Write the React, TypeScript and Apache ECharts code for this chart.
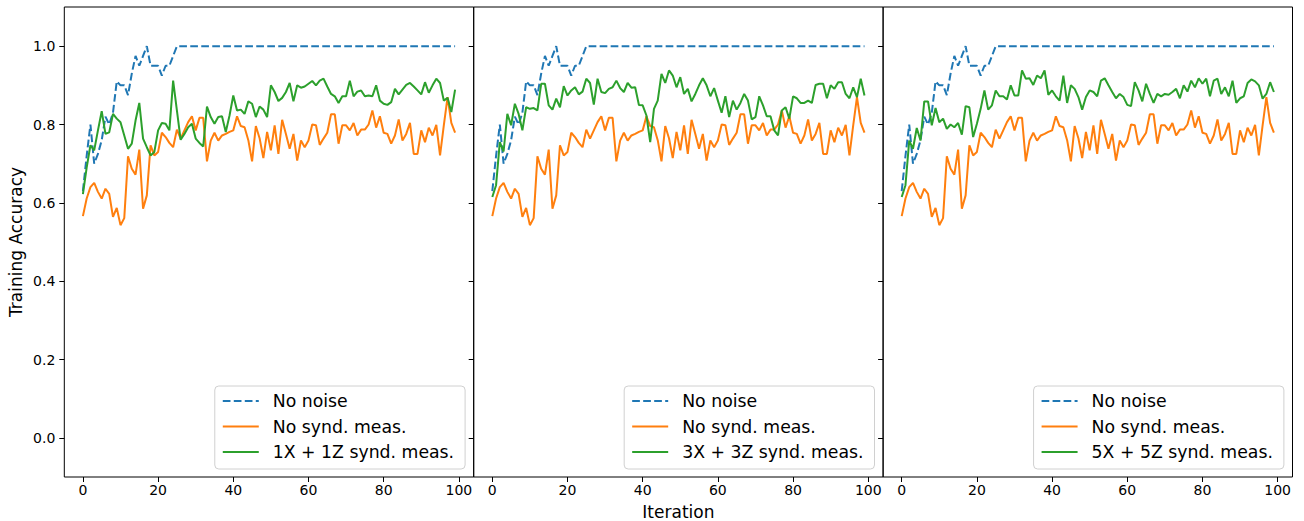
import React, { useEffect, useRef } from "react";
import * as echarts from "echarts";

const iterations: number[] = Array.from({ length: 100 }, (_, i) => i);

const noNoise: number[] = [
  0.63, 0.72, 0.80, 0.70, 0.725, 0.76, 0.82, 0.80, 0.83, 0.91,
  0.90, 0.90, 0.875, 0.93, 0.975, 0.95, 0.975, 1.0, 0.95, 0.95,
  0.95, 0.925, 0.95, 0.95, 0.975, 1.0, 1.0, 1.0, 1.0, 1.0,
  1.0, 1.0, 1.0, 1.0, 1.0, 1.0, 1.0, 1.0, 1.0, 1.0,
  1.0, 1.0, 1.0, 1.0, 1.0, 1.0, 1.0, 1.0, 1.0, 1.0,
  1.0, 1.0, 1.0, 1.0, 1.0, 1.0, 1.0, 1.0, 1.0, 1.0,
  1.0, 1.0, 1.0, 1.0, 1.0, 1.0, 1.0, 1.0, 1.0, 1.0,
  1.0, 1.0, 1.0, 1.0, 1.0, 1.0, 1.0, 1.0, 1.0, 1.0,
  1.0, 1.0, 1.0, 1.0, 1.0, 1.0, 1.0, 1.0, 1.0, 1.0,
  1.0, 1.0, 1.0, 1.0, 1.0, 1.0, 1.0, 1.0, 1.0, 1.0,
];

const noSynd: number[] = [
  0.566, 0.611, 0.640, 0.651, 0.628, 0.611, 0.636, 0.623, 0.564, 0.587,
  0.543, 0.561, 0.719, 0.687, 0.672, 0.736, 0.585, 0.619, 0.747, 0.721,
  0.730, 0.779, 0.768, 0.753, 0.742, 0.787, 0.764, 0.785, 0.806, 0.821,
  0.785, 0.817, 0.817, 0.706, 0.759, 0.779, 0.759, 0.772, 0.776, 0.781,
  0.785, 0.821, 0.796, 0.793, 0.760, 0.706, 0.796, 0.765, 0.714, 0.781,
  0.734, 0.798, 0.725, 0.812, 0.776, 0.738, 0.776, 0.708, 0.759, 0.742,
  0.759, 0.800, 0.798, 0.748, 0.764, 0.779, 0.826, 0.826, 0.751, 0.798,
  0.798, 0.785, 0.804, 0.772, 0.787, 0.787, 0.800, 0.836, 0.792, 0.821,
  0.779, 0.776, 0.751, 0.772, 0.813, 0.759, 0.776, 0.804, 0.725, 0.725,
  0.785, 0.755, 0.792, 0.772, 0.799, 0.721, 0.798, 0.870, 0.804, 0.779,
];

const synd1: number[] = [
  0.622, 0.690, 0.747, 0.734, 0.785, 0.834, 0.776, 0.780, 0.827, 0.815,
  0.806, 0.772, 0.738, 0.751, 0.810, 0.855, 0.764, 0.742, 0.721, 0.730,
  0.785, 0.804, 0.802, 0.785, 0.912, 0.836, 0.761, 0.776, 0.793, 0.802,
  0.764, 0.753, 0.744, 0.846, 0.819, 0.802, 0.819, 0.821, 0.781, 0.823,
  0.874, 0.836, 0.838, 0.827, 0.859, 0.853, 0.819, 0.846, 0.838, 0.819,
  0.900, 0.883, 0.860, 0.868, 0.883, 0.906, 0.859, 0.900, 0.894, 0.897,
  0.904, 0.911, 0.900, 0.912, 0.917, 0.897, 0.878, 0.872, 0.855, 0.872,
  0.872, 0.912, 0.872, 0.884, 0.887, 0.872, 0.874, 0.872, 0.900, 0.861,
  0.853, 0.850, 0.857, 0.891, 0.877, 0.889, 0.901, 0.906, 0.897, 0.887,
  0.877, 0.908, 0.881, 0.900, 0.917, 0.906, 0.861, 0.868, 0.832, 0.889,
];

const synd3: number[] = [
  0.615, 0.645, 0.755, 0.731, 0.827, 0.798, 0.853, 0.827, 0.785, 0.844,
  0.840, 0.842, 0.836, 0.904, 0.904, 0.849, 0.838, 0.866, 0.844, 0.898,
  0.874, 0.887, 0.895, 0.877, 0.884, 0.917, 0.906, 0.851, 0.917, 0.883,
  0.880, 0.891, 0.895, 0.912, 0.893, 0.883, 0.906, 0.894, 0.895, 0.850,
  0.849, 0.823, 0.755, 0.840, 0.861, 0.929, 0.906, 0.938, 0.925, 0.895,
  0.921, 0.878, 0.891, 0.859, 0.878, 0.900, 0.918, 0.900, 0.872, 0.893,
  0.861, 0.830, 0.872, 0.819, 0.861, 0.838, 0.855, 0.878, 0.861, 0.813,
  0.819, 0.872, 0.849, 0.821, 0.821, 0.785, 0.772, 0.836, 0.844, 0.815,
  0.872, 0.867, 0.855, 0.855, 0.861, 0.855, 0.901, 0.904, 0.904, 0.867,
  0.900, 0.891, 0.908, 0.908, 0.878, 0.867, 0.895, 0.870, 0.917, 0.874,
];

const synd5: number[] = [
  0.615, 0.645, 0.759, 0.738, 0.791, 0.759, 0.859, 0.859, 0.798, 0.842,
  0.806, 0.815, 0.789, 0.800, 0.793, 0.804, 0.774, 0.847, 0.844, 0.768,
  0.802, 0.840, 0.887, 0.838, 0.849, 0.887, 0.872, 0.872, 0.864, 0.900,
  0.874, 0.874, 0.938, 0.917, 0.918, 0.901, 0.925, 0.918, 0.938, 0.876,
  0.887, 0.872, 0.861, 0.925, 0.855, 0.900, 0.891, 0.870, 0.838, 0.870,
  0.887, 0.883, 0.872, 0.912, 0.918, 0.900, 0.883, 0.867, 0.878, 0.870,
  0.850, 0.847, 0.908, 0.887, 0.859, 0.904, 0.878, 0.855, 0.878, 0.872,
  0.878, 0.876, 0.883, 0.891, 0.867, 0.900, 0.884, 0.912, 0.895, 0.918,
  0.904, 0.917, 0.872, 0.912, 0.917, 0.878, 0.895, 0.872, 0.912, 0.855,
  0.867, 0.872, 0.906, 0.915, 0.910, 0.900, 0.866, 0.878, 0.908, 0.883,
];

const panelLabels: string[] = [
  "1X + 1Z synd. meas.",
  "3X + 3Z synd. meas.",
  "5X + 5Z synd. meas.",
];
const panelGreens: number[][] = [synd1, synd3, synd5];

const xTicks: number[] = [0, 20, 40, 60, 80, 100];
const yTicks: number[] = [0, 0.2, 0.4, 0.6, 0.8, 1.0];

const FONT = "DejaVu Sans";
const BLUE = "#1f77b4";
const ORANGE = "#ff7f0e";
const GREEN = "#2ca02c";

const pairs = (vals: number[]) => iterations.map((it, i) => [it, vals[i]]);

export default function App() {
  const ref = useRef<HTMLDivElement>(null);

  useEffect(() => {
    if (!ref.current) return;
    const chart = echarts.init(ref.current, undefined, { renderer: "svg" });

    const W = 409.4;
    const lefts = [64.3, 64.3 + W, 64.3 + 2 * W];
    const legendRights = lefts.map((l) => 1304 - (l + W - 8.6));

    const grids = lefts.map((l) => ({
      left: l,
      top: 7,
      width: W,
      height: 470,
      show: true,
      borderColor: "#000",
      borderWidth: 1,
      backgroundColor: "transparent",
      containLabel: false,
      outerBoundsMode: "none",
    }));

    const xAxes = lefts.map((_, k) => ({
      type: "value",
      gridIndex: k,
      position: "bottom",
      min: -4.95,
      max: 103.95,
      splitLine: { show: false },
      axisLine: { show: false, onZero: false },
      axisTick: {
        show: true,
        customValues: xTicks,
        length: 5,
        lineStyle: { color: "#000", width: 1 },
      },
      axisLabel: {
        show: true,
        customValues: xTicks,
        margin: 6,
        fontSize: 14,
        fontFamily: FONT,
        color: "#000",
      },
      name: k === 1 ? "Iteration" : "",
      nameLocation: "middle",
      nameGap: 26,
      nameTextStyle: { fontSize: 17, fontFamily: FONT, color: "#000" },
    }));

    const yAxes = lefts.map((_, k) => ({
      type: "value",
      gridIndex: k,
      position: "left",
      min: -0.1,
      max: 1.1,
      splitLine: { show: false },
      axisLine: { show: false, onZero: false },
      axisTick: {
        show: true,
        customValues: yTicks,
        length: 5,
        lineStyle: { color: "#000", width: 1 },
      },
      axisLabel: {
        show: k === 0,
        customValues: yTicks,
        margin: 9,
        fontSize: 14,
        fontFamily: FONT,
        color: "#000",
        formatter: (v: number) => v.toFixed(1),
      },
      name: k === 0 ? "Training Accuracy" : "",
      nameLocation: "middle",
      nameGap: 40,
      nameTextStyle: { fontSize: 17, fontFamily: FONT, color: "#000" },
    }));

    const series: any[] = [];
    lefts.forEach((_, k) => {
      series.push({
        type: "line",
        name: "No noise",
        xAxisIndex: k,
        yAxisIndex: k,
        data: pairs(noNoise),
        symbol: "none",
        color: BLUE,
        lineStyle: { color: BLUE, width: 2, type: [7.7, 3.3] },
      });
      series.push({
        type: "line",
        name: "No synd. meas.",
        xAxisIndex: k,
        yAxisIndex: k,
        data: pairs(noSynd),
        symbol: "none",
        color: ORANGE,
        lineStyle: { color: ORANGE, width: 2 },
      });
      series.push({
        type: "line",
        name: panelLabels[k],
        xAxisIndex: k,
        yAxisIndex: k,
        data: pairs(panelGreens[k]),
        symbol: "none",
        color: GREEN,
        lineStyle: { color: GREEN, width: 2 },
      });
    });

    const legends = lefts.map((_, k) => ({
      data: ["No noise", "No synd. meas.", panelLabels[k]],
      orient: "vertical",
      right: legendRights[k],
      top: 386,
      itemWidth: 36,
      itemHeight: 14,
      itemGap: 5.5,
      padding: [5, 11, 7, 7],
      backgroundColor: "rgba(255,255,255,0.8)",
      borderColor: "#d0d0d0",
      borderWidth: 1,
      borderRadius: 4,
      selectedMode: false,
      itemStyle: { opacity: 0 },
      lineStyle: { width: 2 },
      textStyle: {
        fontSize: 17.3,
        fontFamily: FONT,
        color: "#000",
        lineHeight: 20,
        padding: [0, 0, 0, 9],
      },
    }));

    chart.setOption({
      animation: false,
      backgroundColor: "#fff",
      grid: grids,
      xAxis: xAxes,
      yAxis: yAxes,
      legend: legends,
      series,
    });

    return () => chart.dispose();
  }, []);

  return (
    <div
      ref={ref}
      style={{ position: "fixed", left: 0, top: 0, width: 1304, height: 521 }}
    />
  );
}
